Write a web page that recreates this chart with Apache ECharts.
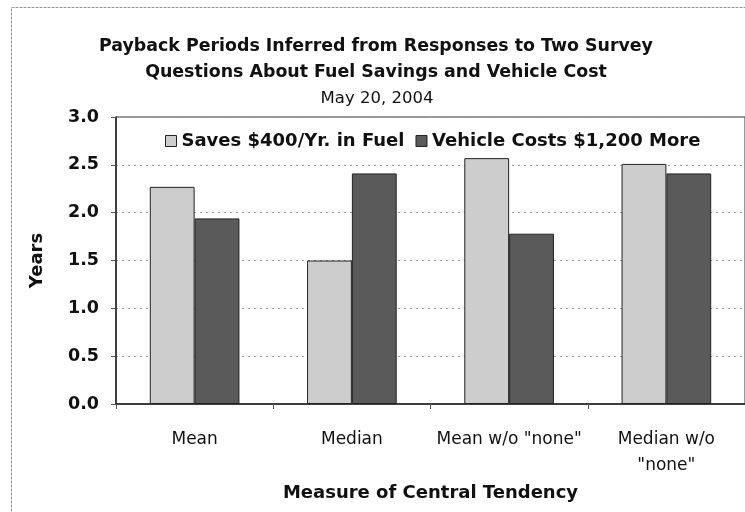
<!DOCTYPE html>
<html>
<head>
<meta charset="utf-8">
<script src="https://cdn.jsdelivr.net/npm/echarts@6/dist/echarts.min.js"></script>
<style>
html,body{margin:0;padding:0;background:#fff;}
#chart{width:745px;height:512px;}
</style>
</head>
<body>
<div id="chart"></div>
<script>
var categories = ['Mean', 'Median', 'Mean w/o "none"', 'Median w/o\n"none"'];
var seriesNames = ['Saves $400/Yr. in Fuel', 'Vehicle Costs $1,200 More'];
var savesFuel = [2.27, 1.50, 2.57, 2.51];
var vehicleCost = [1.94, 2.41, 1.78, 2.41];

var chart = echarts.init(document.getElementById('chart'));
var font = '"DejaVu Sans", "Liberation Sans", sans-serif';
chart.setOption({
  backgroundColor: '#fff',
  animation: false,
  graphic: [
    {type: 'rect', shape: {x: 11.5, y: 7.5, width: 760, height: 520}, silent: true,
     style: {fill: 'none', stroke: '#999', lineWidth: 1, lineDash: [3, 1]}}
  ],
  title: [
    {text: 'Payback Periods Inferred from Responses to Two Survey', left: 371, textAlign: 'center', top: 33,
     textStyle: {fontFamily: font, fontSize: 17.4, fontWeight: 'bold', color: '#111'}},
    {text: 'Questions About Fuel Savings and Vehicle Cost', left: 371, textAlign: 'center', top: 59,
     textStyle: {fontFamily: font, fontSize: 17.4, fontWeight: 'bold', color: '#111'}},
    {text: 'May 20, 2004', left: 372, textAlign: 'center', top: 85,
     textStyle: {fontFamily: font, fontSize: 16.5, fontWeight: 'normal', color: '#111'}}
  ],
  legend: {
    data: seriesNames,
    orient: 'horizontal',
    top: 127,
    left: 160,
    width: 580,
    itemGap: 11,
    itemWidth: 11,
    itemHeight: 11,
    icon: 'rect',
    itemStyle: {borderColor: '#222', borderWidth: 1},
    textStyle: {fontFamily: font, fontSize: 18, fontWeight: 'bold', color: '#111', padding: [0, 0, 0, 0]},
    selectedMode: false
  },
  grid: {left: 116, right: 0, top: 117, bottom: 108, show: true, borderColor: '#333', borderWidth: 1},
  xAxis: {
    type: 'category',
    data: categories,
    name: 'Measure of Central Tendency',
    nameLocation: 'middle',
    nameGap: 75,
    nameTextStyle: {fontFamily: font, fontSize: 18, fontWeight: 'bold', color: '#111'},
    axisLine: {lineStyle: {color: '#222', width: 1.5}},
    axisTick: {show: true, length: 5, lineStyle: {color: '#555'}},
    axisLabel: {fontFamily: font, fontSize: 17, color: '#111', margin: 23, lineHeight: 26, interval: 0},
    splitLine: {show: false}
  },
  yAxis: {
    type: 'value',
    min: 0,
    max: 3,
    interval: 0.5,
    name: 'Years',
    nameLocation: 'middle',
    nameGap: 70,
    nameRotate: 90,
    nameTextStyle: {fontFamily: font, fontSize: 18, fontWeight: 'bold', color: '#111'},
    axisLine: {show: true, lineStyle: {color: '#222', width: 1.5}},
    axisTick: {show: true, length: 5, lineStyle: {color: '#555'}},
    axisLabel: {fontFamily: font, fontSize: 17.5, fontWeight: 'bold', color: '#111', margin: 17,
      formatter: function (v) { return v.toFixed(1); }},
    splitLine: {show: true, lineStyle: {color: '#999', type: [2, 4], width: 1}}
  },
  series: [
    {name: seriesNames[0], type: 'bar', data: savesFuel, barGap: '0%', barCategoryGap: '43%',
     itemStyle: {color: '#cdcdcd', borderColor: '#222', borderWidth: 1}},
    {name: seriesNames[1], type: 'bar', data: vehicleCost,
     itemStyle: {color: '#5a5a5a', borderColor: '#222', borderWidth: 1}}
  ]
});
</script>
</body>
</html>
